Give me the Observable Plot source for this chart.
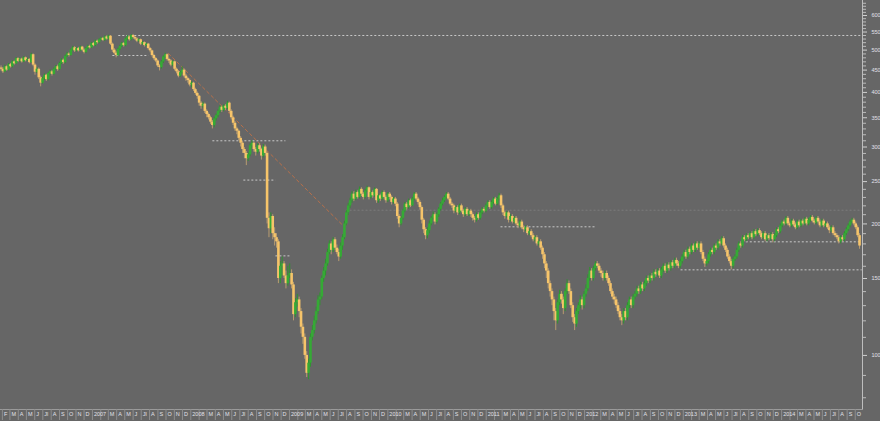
<!DOCTYPE html>
<html>
<head>
<meta charset="utf-8">
<script src="https://cdn.jsdelivr.net/npm/d3@7"></script>
<script src="https://cdn.jsdelivr.net/npm/@observablehq/plot@0.6"></script>
<style>
  html, body { margin: 0; padding: 0; background: #666666; }
  #chart svg { display: block; }
</style>
</head>
<body>
<div id="chart"></div>
<script>
// Weekly candles, first week ending 2006-01-27; open = previous close
const firstWeek = "2006-01-27";
const firstOpen = 455;
const closes = [
  452, 446, 458, 450, 463, 458, 470, 465, 478, 471,
  477, 470, 480, 473, 476, 468, 488, 462, 445, 452,
  432, 420, 430, 438, 428, 442, 446, 440, 452, 458,
  451, 466, 474, 468, 484, 490, 486, 500, 506, 498,
  504, 498, 508, 500, 494, 504, 510, 506, 518, 512,
  524, 520, 528, 532, 526, 536, 530, 538, 516, 500,
  492, 486, 502, 510, 518, 512, 530, 536, 528, 540,
  534, 530, 524, 528, 516, 520, 512, 516, 504, 498,
  486, 478, 472, 460, 456, 470, 482, 488, 476, 472,
  462, 470, 452, 446, 436, 444, 450, 436, 430, 426,
  416, 420, 406, 398, 392, 378, 372, 376, 362, 356,
  350, 342, 336, 348, 354, 362, 370, 364, 372, 368,
  378, 362, 350, 340, 330, 326, 314, 306, 296, 290,
  282, 288, 302, 306, 296, 292, 302, 296, 286, 300,
  290, 206, 195, 208, 190, 186, 182, 150, 160, 162,
  152, 146, 152, 154, 145, 124, 132, 134, 126, 116,
  110, 100, 91, 96, 110, 114, 120, 126, 134, 136,
  150, 156, 162, 172, 180, 174, 184, 176, 172, 168,
  178, 186, 200, 212, 220, 226, 234, 228, 236, 230,
  240, 234, 230, 238, 242, 230, 236, 232, 240, 226,
  232, 228, 236, 230, 226, 234, 230, 224, 228, 222,
  208, 200, 206, 214, 222, 218, 226, 220, 228, 234,
  228, 224, 218, 204, 194, 188, 193, 200, 206, 210,
  202, 210, 216, 222, 226, 230, 234, 228, 222, 220,
  214, 218, 212, 220, 214, 210, 216, 210, 214, 210,
  206, 204, 210, 206, 212, 216, 214, 220, 224, 218,
  224, 228, 222, 228, 232, 220, 212, 208, 212, 204,
  208, 202, 206, 200, 198, 202, 196, 194, 196, 190,
  192, 188, 184, 186, 180, 182, 176, 170, 162, 156,
  146, 140, 134, 126, 120, 132, 138, 134, 128, 140,
  146, 140, 130, 122, 118, 126, 130, 134, 130, 138,
  142, 150, 156, 150, 158, 162, 160, 156, 154, 150,
  154, 150, 146, 140, 136, 134, 130, 126, 122, 120,
  126, 122, 130, 134, 130, 136, 138, 142, 140, 145,
  142, 146, 150, 148, 152, 150, 155, 153, 156, 152,
  157, 160, 156, 161, 158, 163, 160, 165, 162, 160,
  164, 168, 172, 168, 175, 172, 178, 174, 180, 176,
  180, 172, 166, 162, 164, 170, 174, 172, 178, 176,
  182, 180, 185, 178, 174, 168, 164, 160, 166, 168,
  174, 180, 178, 186, 184, 188, 186, 190, 186, 192,
  189, 193, 190, 186, 190, 184, 188, 185, 189, 184,
  188, 194, 192, 198, 202, 200, 206, 200, 198, 203,
  199, 196, 202, 198, 203, 200, 205, 200, 204, 207,
  203, 201, 206, 202, 198, 203, 198, 200, 196, 193,
  196, 190, 188, 186, 182, 186, 184, 190, 194, 198,
  202, 204, 200, 196, 188, 178
];
const highs = [
  460, 456, 462, 460, 466, 466, 473, 472, 481, 480,
  480, 479, 483, 482, 479, 478, 492, 490, 465, 456,
  455, 436, 433, 441, 440, 445, 450, 449, 455, 461,
  462, 469, 478, 477, 487, 494, 493, 503, 510, 509,
  507, 507, 511, 510, 503, 507, 513, 513, 521, 520,
  527, 527, 531, 535, 534, 539, 539, 541, 540, 519,
  504, 496, 505, 513, 521, 520, 533, 540, 539, 543,
  543, 537, 533, 531, 530, 523, 522, 519, 518, 507,
  500, 489, 481, 475, 463, 473, 485, 492, 490, 479,
  475, 473, 472, 455, 449, 447, 458, 453, 440, 433,
  429, 423, 422, 409, 401, 394, 381, 380, 378, 365,
  359, 353, 345, 351, 357, 365, 373, 372, 375, 375,
  382, 380, 365, 353, 343, 333, 328, 317, 309, 299,
  293, 291, 305, 310, 308, 299, 305, 305, 298, 304,
  303, 292, 212, 212, 210, 196, 190, 184, 164, 168,
  164, 156, 160, 162, 157, 147, 135, 138, 136, 128,
  118, 112, 102, 98, 112, 117, 123, 129, 137, 139,
  152, 159, 166, 175, 183, 182, 186, 186, 179, 175,
  181, 189, 203, 215, 223, 229, 237, 237, 239, 238,
  243, 242, 236, 240, 244, 243, 239, 238, 242, 241,
  234, 234, 238, 238, 232, 236, 236, 232, 230, 230,
  224, 210, 208, 216, 224, 224, 228, 228, 230, 236,
  236, 230, 226, 220, 206, 196, 196, 203, 208, 213,
  212, 212, 218, 224, 229, 232, 236, 236, 230, 224,
  222, 220, 220, 222, 222, 216, 218, 218, 216, 216,
  212, 208, 212, 212, 214, 218, 218, 222, 226, 226,
  226, 230, 230, 230, 235, 234, 222, 214, 214, 214,
  210, 210, 208, 208, 202, 204, 204, 198, 198, 198,
  194, 194, 190, 188, 188, 184, 184, 178, 172, 164,
  158, 148, 142, 136, 128, 134, 141, 140, 136, 142,
  149, 148, 142, 132, 124, 128, 132, 137, 136, 140,
  145, 153, 159, 158, 160, 164, 164, 162, 158, 156,
  156, 156, 152, 148, 142, 138, 136, 132, 128, 124,
  128, 128, 132, 136, 136, 138, 140, 144, 144, 147,
  147, 148, 152, 152, 154, 154, 157, 157, 158, 158,
  159, 162, 162, 163, 163, 165, 165, 167, 167, 164,
  166, 170, 174, 174, 177, 177, 180, 180, 182, 182,
  182, 182, 174, 168, 166, 172, 176, 176, 180, 180,
  184, 184, 187, 187, 180, 176, 170, 166, 168, 170,
  176, 182, 182, 188, 188, 190, 190, 192, 192, 194,
  194, 195, 195, 192, 192, 192, 190, 190, 191, 191,
  190, 196, 196, 200, 204, 204, 208, 208, 202, 205,
  205, 201, 204, 204, 205, 205, 207, 207, 206, 209,
  209, 205, 208, 208, 204, 205, 205, 202, 202, 198,
  198, 198, 192, 190, 188, 188, 188, 192, 196, 200,
  204, 206, 206, 202, 198, 190
];
const lows = [
  448, 442, 444, 447, 448, 455, 455, 462, 463, 468,
  468, 467, 468, 470, 471, 465, 466, 458, 438, 442,
  428, 412, 418, 426, 424, 425, 438, 436, 438, 449,
  447, 449, 463, 464, 465, 481, 482, 484, 497, 494,
  495, 495, 496, 497, 490, 491, 501, 503, 504, 509,
  509, 516, 517, 525, 523, 523, 527, 527, 512, 494,
  488, 480, 483, 499, 507, 508, 509, 526, 524, 525,
  530, 526, 520, 521, 512, 513, 508, 509, 500, 493,
  482, 474, 468, 456, 448, 452, 466, 478, 472, 466,
  458, 458, 448, 441, 432, 433, 440, 432, 424, 420,
  412, 410, 402, 394, 386, 372, 366, 368, 358, 350,
  346, 338, 330, 332, 344, 350, 358, 360, 361, 364,
  365, 358, 346, 336, 326, 320, 310, 300, 290, 282,
  272, 278, 285, 298, 292, 286, 289, 292, 280, 283,
  286, 200, 186, 190, 184, 178, 176, 146, 146, 152,
  150, 142, 144, 150, 142, 120, 122, 129, 122, 112,
  106, 98, 89, 88, 94, 108, 112, 118, 124, 130,
  134, 147, 152, 160, 170, 170, 172, 174, 170, 164,
  166, 174, 184, 198, 209, 217, 223, 225, 226, 228,
  228, 231, 227, 228, 236, 227, 228, 229, 230, 223,
  223, 225, 226, 228, 223, 224, 227, 221, 222, 219,
  205, 196, 198, 204, 212, 215, 216, 218, 219, 226,
  226, 221, 215, 200, 190, 184, 185, 190, 198, 204,
  199, 200, 207, 214, 220, 224, 228, 226, 220, 217,
  211, 212, 209, 210, 212, 207, 208, 208, 208, 207,
  203, 201, 202, 204, 204, 210, 212, 212, 218, 216,
  216, 222, 220, 220, 226, 217, 209, 205, 206, 201,
  202, 200, 200, 198, 195, 196, 194, 191, 192, 188,
  188, 186, 182, 182, 178, 178, 174, 166, 158, 150,
  142, 136, 130, 120, 114, 118, 130, 131, 124, 126,
  138, 138, 128, 119, 114, 116, 124, 128, 127, 128,
  136, 140, 148, 148, 148, 156, 158, 154, 151, 148,
  148, 148, 144, 138, 134, 131, 128, 124, 120, 117,
  118, 120, 120, 128, 128, 128, 134, 136, 138, 138,
  140, 140, 144, 146, 146, 148, 148, 151, 151, 150,
  150, 155, 154, 154, 156, 156, 158, 158, 160, 158,
  158, 162, 166, 166, 166, 170, 170, 172, 172, 174,
  174, 170, 164, 159, 160, 162, 168, 170, 170, 174,
  174, 178, 178, 176, 172, 166, 162, 157, 158, 164,
  166, 172, 176, 176, 182, 182, 184, 184, 184, 184,
  187, 187, 188, 184, 184, 182, 182, 183, 183, 181,
  182, 186, 190, 190, 196, 198, 198, 198, 196, 196,
  197, 194, 194, 196, 196, 198, 198, 198, 198, 202,
  201, 199, 199, 200, 196, 196, 196, 196, 194, 190,
  191, 188, 186, 184, 180, 180, 182, 182, 188, 192,
  196, 200, 198, 194, 186, 175
];

// Horizontal support / resistance levels
const levelStart = ["2007-04-07", "2007-03-16", "2008-03-21", "2008-07-14", "2008-11-10", "2011-02-23", "2013-08-21", "2012-12-22"];
const levelEnd   = ["2014-10-28", "2007-07-28", "2008-12-17", "2008-11-10", "2009-01-05", "2012-02-10", "2014-10-25", "2014-10-25"];
const levelValue = [540, 486, 310, 252, 169, 197, 182, 157];
const faintStart = ["2009-07-28"], faintEnd = ["2014-10-28"], faintValue = [215];
// Down trendline
const trendDates = ["2007-10-10", "2009-07-20"];
const trendValues = [491, 198];

// Axis ticks
const yLabels = [600, 550, 500, 450, 400, 350, 300, 250, 200, 150, 100];
const yMinor = [80, 90, 110, 120, 130, 140, 160, 170, 180, 190, 210, 220, 230, 240, 260, 270, 280, 290, 310, 320, 330, 340, 360, 370, 380, 390, 410, 420, 430, 440, 460, 470, 480, 490, 510, 520, 530, 540, 560, 570, 580, 590, 610, 620, 630, 640];
const monthNames = ["J", "F", "M", "A", "M", "J", "Jl", "A", "S", "O", "N", "D"];

const t0 = Date.parse(firstWeek + "T00:00:00Z");
const candles = closes.map((c, i) => ({
  date: new Date(t0 + i * 7 * 864e5),
  open: i === 0 ? firstOpen : closes[i - 1],
  close: c,
  high: highs[i],
  low: lows[i]
}));
candles.forEach(d => d.up = d.close >= d.open);

const levels = levelValue.map((v, i) => ({x1: new Date(levelStart[i]), x2: new Date(levelEnd[i]), y: v}));
const faint = faintValue.map((v, i) => ({x1: new Date(faintStart[i]), x2: new Date(faintEnd[i]), y: v}));
const trend = trendDates.map((d, i) => ({date: new Date(d), value: trendValues[i]}));

const xDomain = [new Date("2006-01-25"), new Date("2014-10-28")];
const months = d3.utcMonth.range(new Date("2006-02-01"), new Date("2014-10-28"));
const labelMonths = months.filter((d, i) => i === 0 || d.getUTCMonth() !== 1);
const fmtMonth = d => d.getUTCMonth() === 0 ? String(d.getUTCFullYear()) : monthNames[d.getUTCMonth()];

const txt = "#e2e2ea";
const plot = Plot.plot({
  width: 880,
  height: 421,
  marginLeft: 0,
  marginRight: 18,
  marginTop: 0,
  marginBottom: 12,
  style: {background: "#666666", fontFamily: "'Liberation Sans', Arial, sans-serif"},
  x: {type: "utc", domain: xDomain, axis: null},
  y: {type: "log", domain: [75.2, 649.4], axis: null},
  marks: [
    Plot.link(faint, {x1: "x1", x2: "x2", y1: "y", y2: "y", stroke: "#7c7c7c", strokeWidth: 1, strokeDasharray: "2,2"}),
    Plot.link(levels, {x1: "x1", x2: "x2", y1: "y", y2: "y", stroke: "#c8c8c8", strokeWidth: 1, strokeDasharray: "2,2"}),
    Plot.line(trend, {x: "date", y: "value", stroke: "#b8704a", strokeWidth: 1, strokeDasharray: "3,3"}),
    Plot.ruleX(candles, {x: "date", y1: "low", y2: "high", stroke: d => d.up ? "#2f952f" : "#b89c70", strokeWidth: 1}),
    Plot.ruleX(candles, {x: "date", y1: "open", y2: "close", stroke: d => d.up ? "#35aa35" : "#f6c46a", strokeWidth: 2.6}),
    Plot.frame({anchor: "right", stroke: "#bdbdbd"}),
    Plot.frame({anchor: "bottom", stroke: "#9a9a9a"}),
    Plot.axisY({anchor: "right", ticks: yMinor, tickSize: 3, text: null, stroke: "#bdbdbd"}),
    Plot.axisY({anchor: "right", ticks: yLabels, tickSize: 4, tickPadding: 5, tickFormat: d => String(d), fontSize: 5.5, fill: txt, stroke: "#d0d0d0"}),
    Plot.axisX({anchor: "bottom", ticks: months, tickSize: 11, text: null, stroke: "#8e8e8e"}),
    Plot.axisX({anchor: "bottom", ticks: labelMonths, tickSize: 0, tickPadding: 3, tickFormat: fmtMonth, textAnchor: "start", dx: 1.5, fontSize: 5.5, fill: txt})
  ]
});
document.getElementById("chart").append(plot);
</script>
</body>
</html>
